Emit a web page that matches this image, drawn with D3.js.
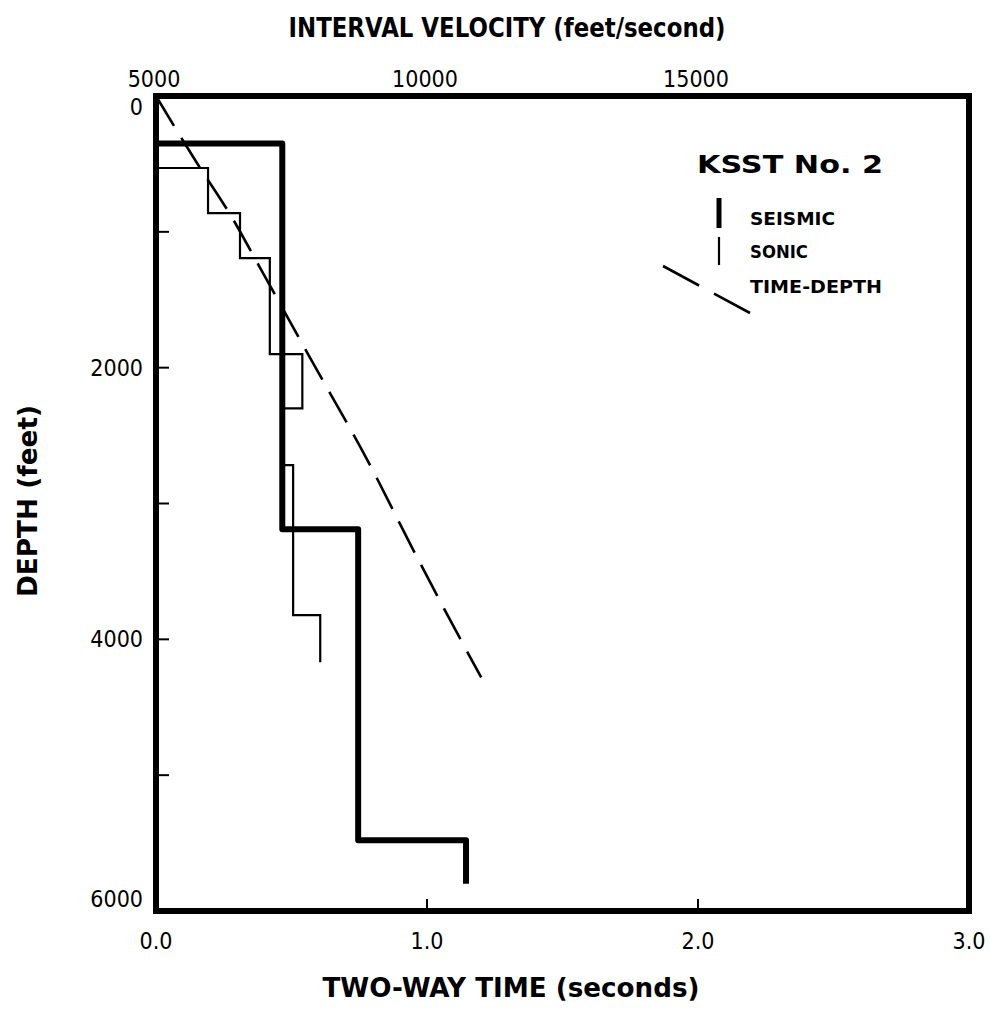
<!DOCTYPE html>
<html><head><meta charset="utf-8">
<script src="https://cdn.jsdelivr.net/npm/d3@7"></script>
<style>body{margin:0;background:#fff}svg{display:block}</style>
</head><body>
<script>
// ---- data ----
const timeTicks = [0, 1, 2, 3];
const timeTickLabels = ["0.0", "1.0", "2.0", "3.0"];
const velTicks = [5000, 10000, 15000];
const depthTicks = [0, 2000, 4000, 6000];
const depthMinor = [1000, 2000, 3000, 4000, 5000];

// seismic interval velocity (step): depth boundaries & velocities
const seismicBounds = [0, 350, 3190, 5480, 5800];
const seismicVel = [5000, 7330, 8730, 10720];

// sonic interval velocity (step)
const sonicStartVel = 5000;
const sonicBounds = [530, 862, 1193, 1900, 2300, 2717, 3822, 4168];
const sonicVel = [5960, 6550, 7100, 7700, 7350, 7530, 8030];

// time-depth curve
const tdTime = [0, 0.15, 0.27, 0.38, 0.565, 0.78, 0.95, 1.125, 1.2];
const tdDepth = [0, 490, 860, 1250, 1915, 2680, 3345, 4005, 4280];

// ---- layout ----
const W = 990, H = 1015;
const L = 156, R = 969, T = 96, B = 911;
const svg = d3.select("body").append("svg").attr("width", W).attr("height", H);

const xT = d3.scaleLinear().domain([0, 3]).range([L, R]);
const xV = d3.scaleLinear().domain([5000, 20000]).range([L, R]);
const yD = d3.scaleLinear().domain([0, 6000]).range([T, B]);

const numFont = "'DejaVu Sans Condensed', 'DejaVu Sans', sans-serif";
const boldFont = "'DejaVu Sans', 'Liberation Sans', sans-serif";

function stepPts(bounds, vel, start) {
  const pts = [];
  if (start !== undefined) pts.push([start, bounds[0]]);
  vel.forEach((v, i) => { pts.push([v, bounds[i]]); pts.push([v, bounds[i + 1]]); });
  return pts;
}
const vLine = d3.line().x(d => xV(d[0])).y(d => yD(d[1]));

// sonic
svg.append("path").attr("d", vLine(stepPts(sonicBounds, sonicVel, sonicStartVel)))
  .attr("fill", "none").attr("stroke", "#000").attr("stroke-width", 2.2);

// seismic
svg.append("path").attr("d", vLine(stepPts(seismicBounds, seismicVel)))
  .attr("fill", "none").attr("stroke", "#000").attr("stroke-width", 6)
  .attr("stroke-linejoin", "round").attr("stroke-linecap", "butt");

// time-depth
const tdLine = d3.line().x(d => xT(d[0])).y(d => yD(d[1])).curve(d3.curveMonotoneY);
svg.append("path").attr("d", tdLine(tdTime.map((t, i) => [t, tdDepth[i]])))
  .attr("fill", "none").attr("stroke", "#000").attr("stroke-width", 2.6)
  .attr("stroke-dasharray", "35 14");

// frame
svg.append("rect").attr("x", L).attr("y", T).attr("width", R - L).attr("height", B - T)
  .attr("fill", "none").attr("stroke", "#000").attr("stroke-width", 6);

// inner ticks
svg.selectAll(".lt").data(depthMinor).enter().append("line")
  .attr("x1", L).attr("x2", L + 13).attr("y1", d => yD(d)).attr("y2", d => yD(d))
  .attr("stroke", "#000").attr("stroke-width", 2);
svg.selectAll(".bt").data([1, 2]).enter().append("line")
  .attr("x1", d => xT(d)).attr("x2", d => xT(d)).attr("y1", B).attr("y2", B - 12)
  .attr("stroke", "#000").attr("stroke-width", 2);

// tick labels
svg.selectAll(".bl").data(timeTicks).enter().append("text")
  .attr("x", d => xT(d)).attr("y", 949).attr("text-anchor", "middle")
  .attr("font-family", numFont).attr("font-size", 23)
  .text((d, i) => timeTickLabels[i]);
svg.selectAll(".tl").data(velTicks).enter().append("text")
  .attr("x", d => xV(d) - 2).attr("y", 87).attr("text-anchor", "middle")
  .attr("font-family", numFont).attr("font-size", 23)
  .text(d => d);
svg.selectAll(".ll").data(depthTicks).enter().append("text")
  .attr("x", 143).attr("y", (d, i) => yD(d) + (i === 0 ? 19 : i === depthTicks.length - 1 ? -4 : 8))
  .attr("text-anchor", "end")
  .attr("font-family", numFont).attr("font-size", 23)
  .text(d => d);

// axis titles
svg.append("text").attr("x", 507).attr("y", 37).attr("text-anchor", "middle")
  .attr("font-family", boldFont).attr("font-weight", "bold").attr("font-size", 27)
  .attr("textLength", 437).attr("lengthAdjust", "spacingAndGlyphs")
  .text("INTERVAL VELOCITY (feet/second)");
svg.append("text").attr("x", 511).attr("y", 997).attr("text-anchor", "middle")
  .attr("font-family", boldFont).attr("font-weight", "bold").attr("font-size", 27)
  .attr("textLength", 377).attr("lengthAdjust", "spacingAndGlyphs")
  .text("TWO-WAY TIME (seconds)");
svg.append("text").attr("transform", "translate(37,501) rotate(-90)").attr("text-anchor", "middle")
  .attr("font-family", boldFont).attr("font-weight", "bold").attr("font-size", 27)
  .attr("textLength", 192).attr("lengthAdjust", "spacingAndGlyphs")
  .text("DEPTH (feet)");

// legend
svg.append("text").attr("x", 697).attr("y", 173)
  .attr("font-family", boldFont).attr("font-weight", "bold").attr("font-size", 25)
  .attr("textLength", 186).attr("lengthAdjust", "spacingAndGlyphs")
  .text("KSST No. 2");
const legendItems = ["SEISMIC", "SONIC", "TIME-DEPTH"];
const legendBase = [225, 258, 293];
const legendLen = [85, 58, 132];
svg.selectAll(".lg").data(legendItems).enter().append("text")
  .attr("x", 750).attr("y", (d, i) => legendBase[i])
  .attr("font-family", numFont).attr("font-weight", "bold").attr("font-size", 17)
  .attr("textLength", (d, i) => legendLen[i]).attr("lengthAdjust", "spacingAndGlyphs")
  .text(d => d);
svg.append("line").attr("x1", 719).attr("x2", 719).attr("y1", 198).attr("y2", 228)
  .attr("stroke", "#000").attr("stroke-width", 5);
svg.append("line").attr("x1", 719).attr("x2", 719).attr("y1", 237).attr("y2", 265)
  .attr("stroke", "#000").attr("stroke-width", 2.2);
svg.append("line").attr("x1", 663).attr("x2", 750).attr("y1", 266).attr("y2", 313)
  .attr("stroke", "#000").attr("stroke-width", 2.6).attr("stroke-dasharray", "41 17");
</script>
</body></html>
